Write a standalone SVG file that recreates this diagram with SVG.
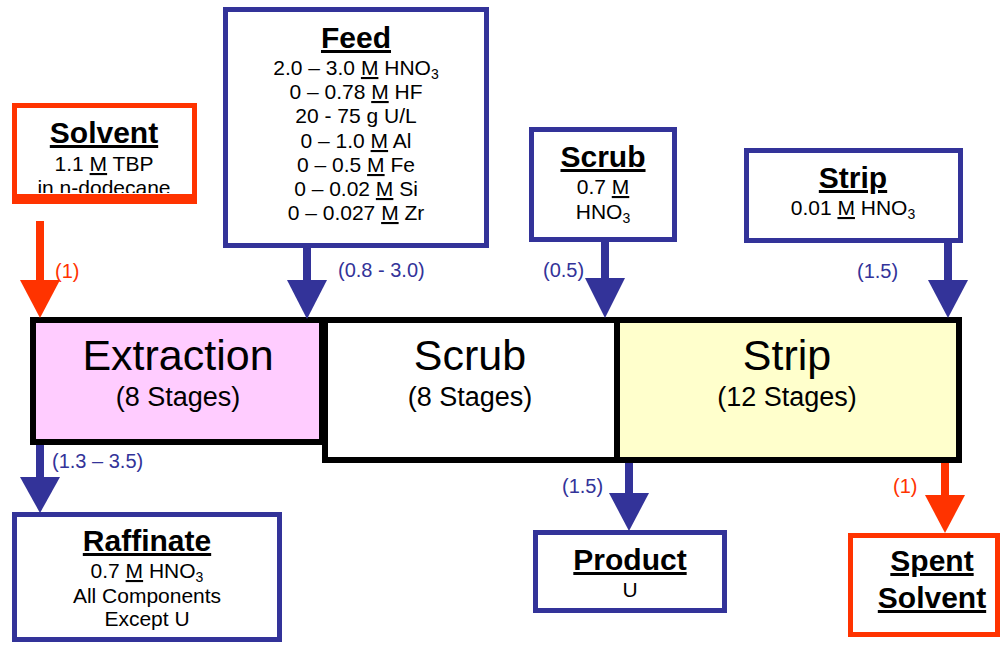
<svg xmlns="http://www.w3.org/2000/svg" width="1003" height="645" viewBox="0 0 1003 645">
<style>
text{font-family:"Liberation Sans",Arial,Helvetica,sans-serif;text-anchor:middle;fill:#000}
.t{font-size:30px;font-weight:bold;text-decoration:underline}
.s{font-size:21px}
.big{font-size:43px}
.mid{font-size:27px}
.lb{font-size:20px;text-anchor:start;fill:#333399}
.lr{font-size:20px;text-anchor:start;fill:#FF3300}
.u{text-decoration:underline}
.bbox{fill:#fff;stroke:#333399;stroke-width:5}
.rbox{fill:#fff;stroke:#FF3300;stroke-width:5}
.main{stroke:#000;stroke-width:6}
.bl{stroke:#333399;stroke-width:8;fill:none}
.rl{stroke:#FF3300;stroke-width:8;fill:none}
.bh{fill:#333399}
.rh{fill:#FF3300}
</style>
<defs>
<clipPath id="solclip"><rect x="12" y="100" width="185" height="93"/></clipPath>
</defs>
<g id="scrub-stage">
<rect class="main" x="325" y="320" width="292" height="140" fill="#fff"/>
<text class="big" x="470" y="370">Scrub</text>
<text class="mid" x="470" y="406">(8 Stages)</text>
</g>
<g id="strip-stage">
<rect class="main" x="617" y="320" width="342" height="140" fill="#FFFFCC"/>
<text class="big" x="787" y="370">Strip</text>
<text class="mid" x="787" y="406">(12 Stages)</text>
</g>
<g id="extraction">
<rect class="main" x="33" y="320" width="289" height="122" fill="#FFCCFF"/>
<text class="big" x="178" y="370">Extraction</text>
<text class="mid" x="178" y="406">(8 Stages)</text>
</g>
<g id="solvent">
<rect class="rbox" x="14.5" y="105.5" width="180" height="96"/>
<rect x="12" y="194" width="185" height="10" fill="#FF3300"/>
<text class="t" x="104" y="143">Solvent</text>
<g clip-path="url(#solclip)">
<text class="s" x="104" y="171">1.1 <tspan class="u">M</tspan> TBP</text>
<text class="s" x="104" y="195">in n-dodecane</text>
</g>
</g>
<g id="feed">
<rect class="bbox" x="225.5" y="9.5" width="261" height="236"/>
<text class="t" x="356" y="48">Feed</text>
<text class="s" x="356" y="75">2.0 – 3.0 <tspan class="u">M</tspan> HNO<tspan font-size="14" dy="4">3</tspan></text>
<text class="s" x="356" y="99">0 – 0.78 <tspan class="u">M</tspan> HF</text>
<text class="s" x="356" y="123">20 - 75 g U/L</text>
<text class="s" x="356" y="148">0 – 1.0 <tspan class="u">M</tspan> Al</text>
<text class="s" x="356" y="172">0 – 0.5 <tspan class="u">M</tspan> Fe</text>
<text class="s" x="356" y="196">0 – 0.02 <tspan class="u">M</tspan> Si</text>
<text class="s" x="356" y="220">0 – 0.027 <tspan class="u">M</tspan> Zr</text>
</g>
<g id="scrub-feed">
<rect class="bbox" x="531.5" y="129.5" width="143" height="110"/>
<text class="t" x="603" y="167">Scrub</text>
<text class="s" x="603" y="194">0.7 <tspan class="u">M</tspan></text>
<text class="s" x="603" y="219">HNO<tspan font-size="14" dy="4">3</tspan></text>
</g>
<g id="strip-feed">
<rect class="bbox" x="746.5" y="150.5" width="214" height="90"/>
<text class="t" x="853" y="188">Strip</text>
<text class="s" x="853" y="215">0.01 <tspan class="u">M</tspan> HNO<tspan font-size="14" dy="4">3</tspan></text>
</g>
<g id="raffinate">
<rect class="bbox" x="14.5" y="514.5" width="265" height="125"/>
<text class="t" x="147" y="551">Raffinate</text>
<text class="s" x="147" y="578">0.7 <tspan class="u">M</tspan> HNO<tspan font-size="14" dy="4">3</tspan></text>
<text class="s" x="147" y="603">All Components</text>
<text class="s" x="147" y="626">Except U</text>
</g>
<g id="product">
<rect class="bbox" x="535.5" y="532.5" width="189" height="78"/>
<text class="t" x="630" y="570">Product</text>
<text class="s" x="630" y="597">U</text>
</g>
<g id="spent-solvent">
<rect class="rbox" x="850.5" y="535.5" width="147" height="99"/>
<text class="t" x="932" y="571">Spent</text>
<text class="t" x="932" y="608">Solvent</text>
</g>
<g id="connectors">
<line class="rl" x1="40" y1="221" x2="40" y2="282"/>
<polygon class="rh" points="20,280 60,280 40,318"/>
<text class="lr" x="55" y="278">(1)</text>
<line class="bl" x1="307" y1="247" x2="307" y2="282"/>
<polygon class="bh" points="287,280 327,280 307,319"/>
<text class="lb" x="338" y="277">(0.8 - 3.0)</text>
<line class="bl" x1="605" y1="241" x2="605" y2="280"/>
<polygon class="bh" points="585,278 625,278 605,318"/>
<text class="lb" x="543" y="277">(0.5)</text>
<line class="bl" x1="948" y1="242" x2="948" y2="282"/>
<polygon class="bh" points="928,280 968,280 948,318"/>
<text class="lb" x="857" y="278">(1.5)</text>
<line class="bl" x1="40" y1="445" x2="40" y2="480"/>
<polygon class="bh" points="20,477 60,477 40,513"/>
<text class="lb" x="52" y="468">(1.3 – 3.5)</text>
<line class="bl" x1="629" y1="463" x2="629" y2="495"/>
<polygon class="bh" points="609,493 649,493 629,531"/>
<text class="lb" x="562" y="493">(1.5)</text>
<line class="rl" x1="945" y1="463" x2="945" y2="497"/>
<polygon class="rh" points="925,495 965,495 945,533"/>
<text class="lr" x="893" y="493">(1)</text>
</g>
</svg>
